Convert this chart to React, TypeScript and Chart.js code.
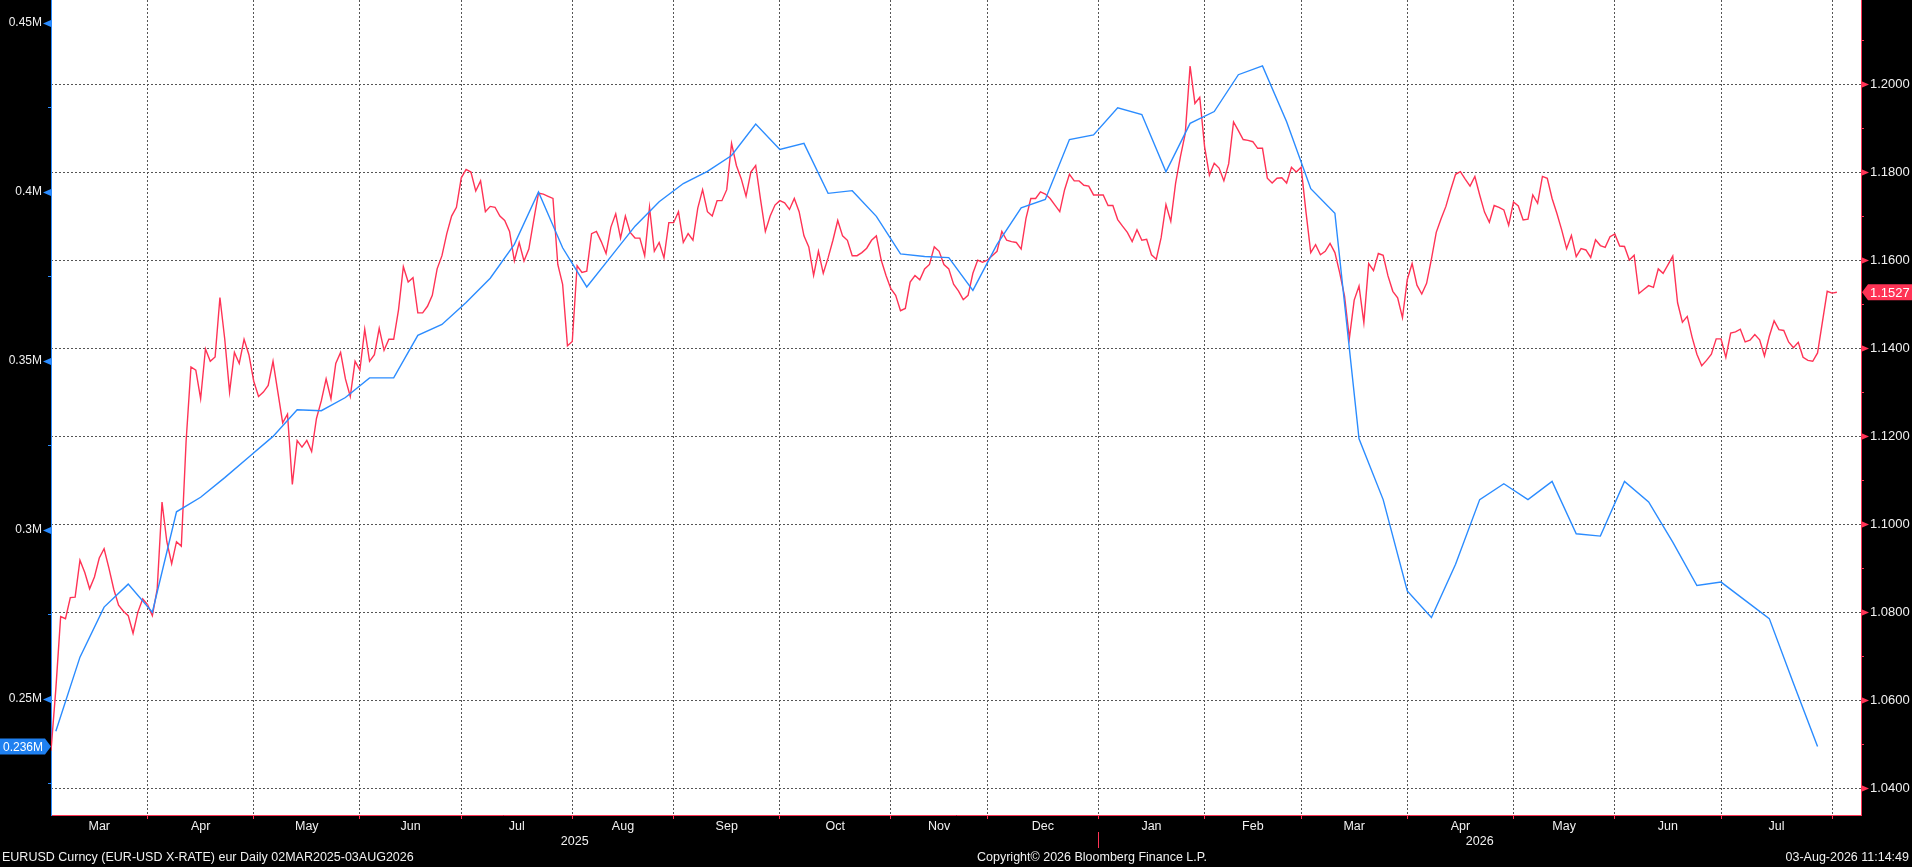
import React, { useEffect, useRef } from 'react';
import { Chart, registerables } from 'chart.js';

Chart.register(...registerables);

// ---- DATA ----
// EUR-USD daily close, one value per weekday starting Mon 03-Mar-2025 (index 0) to Mon 03-Aug-2026 (index 370)
const eurusd: number[] = [
  // Mar 2025
  1.0485, 1.0625, 1.0790, 1.0785, 1.0833, 1.0834, 1.0918, 1.0890, 1.0853, 1.0880, 1.0923, 1.0944, 1.0900, 1.0852, 1.0816, 1.0802, 1.0792, 1.0752, 1.0800, 1.0830, 1.0817,
  // Apr 2025
  1.0792, 1.0852, 1.1050, 1.0960, 1.0910, 1.0960, 1.0950, 1.1190, 1.1357, 1.1350, 1.1285, 1.1398, 1.1370, 1.1380, 1.1515, 1.1420, 1.1300, 1.1390, 1.1365, 1.1420, 1.1385, 1.1325,
  // May 2025
  1.1290, 1.1300, 1.1315, 1.1370, 1.1300, 1.1230, 1.1250, 1.1090, 1.1190, 1.1175, 1.1190, 1.1165, 1.1240, 1.1280, 1.1330, 1.1285, 1.1365, 1.1390, 1.1330, 1.1290, 1.1370, 1.1350,
  // Jun 2025
  1.1443, 1.1370, 1.1385, 1.1445, 1.1395, 1.1420, 1.1420, 1.1487, 1.1585, 1.1550, 1.1560, 1.1480, 1.1480, 1.1495, 1.1520, 1.1580, 1.1610, 1.1660, 1.1700, 1.1720, 1.1787,
  // Jul 2025
  1.1806, 1.1800, 1.1757, 1.1780, 1.1710, 1.1722, 1.1720, 1.1700, 1.1690, 1.1665, 1.1598, 1.1640, 1.1598, 1.1625, 1.1690, 1.1752, 1.1750, 1.1745, 1.1740, 1.1590, 1.1545, 1.1405, 1.1415,
  // Aug 2025
  1.1587, 1.1572, 1.1575, 1.1660, 1.1665, 1.1642, 1.1615, 1.1675, 1.1705, 1.1650, 1.1700, 1.1663, 1.1650, 1.1650, 1.1610, 1.1720, 1.1620, 1.1640, 1.1605, 1.1685, 1.1685,
  // Sep 2025
  1.1710, 1.1640, 1.1660, 1.1645, 1.1718, 1.1760, 1.1710, 1.1700, 1.1735, 1.1735, 1.1760, 1.1865, 1.1815, 1.1785, 1.1745, 1.1800, 1.1815, 1.1738, 1.1665, 1.1700, 1.1725, 1.1735,
  // Oct 2025
  1.1730, 1.1715, 1.1740, 1.1710, 1.1655, 1.1630, 1.1565, 1.1620, 1.1570, 1.1605, 1.1645, 1.1690, 1.1655, 1.1645, 1.1610, 1.1610, 1.1617, 1.1627, 1.1645, 1.1655, 1.1600, 1.1565, 1.1535,
  // Nov 2025
  1.1520, 1.1485, 1.1490, 1.1550, 1.1565, 1.1555, 1.1580, 1.1590, 1.1630, 1.1620, 1.1590, 1.1580, 1.1545, 1.1530, 1.1510, 1.1520, 1.1570, 1.1600, 1.1595, 1.1600,
  // Dec 2025
  1.1610, 1.1620, 1.1665, 1.1645, 1.1642, 1.1640, 1.1625, 1.1695, 1.1740, 1.1740, 1.1755, 1.1750, 1.1740, 1.1725, 1.1710, 1.1760, 1.1795, 1.1780, 1.1780, 1.1770, 1.1768, 1.1748, 1.1748,
  // Jan 2026
  1.1748, 1.1724, 1.1724, 1.1692, 1.1677, 1.1663, 1.1642, 1.1669, 1.1645, 1.1647, 1.1612, 1.1602, 1.1651, 1.1726, 1.1688, 1.1775, 1.1835, 1.1888, 1.2041, 1.1956, 1.1970, 1.1858,
  // Feb 2026
  1.1793, 1.1820, 1.1809, 1.1780, 1.1819, 1.1914, 1.1894, 1.1874, 1.1872, 1.1869, 1.1854, 1.1854, 1.1786, 1.1775, 1.1786, 1.1787, 1.1775, 1.1811, 1.1800, 1.1811,
  // Mar 2026
  1.1710, 1.1617, 1.1635, 1.1612, 1.1620, 1.1638, 1.1617, 1.1571, 1.1518, 1.1422, 1.1509, 1.1541, 1.1458, 1.1592, 1.1576, 1.1615, 1.1611, 1.1564, 1.1529, 1.1514, 1.1469, 1.1556,
  // Apr 2026
  1.1592, 1.1543, 1.1523, 1.1547, 1.1602, 1.1663, 1.1694, 1.1722, 1.1760, 1.1795, 1.1801, 1.1784, 1.1768, 1.1790, 1.1748, 1.1709, 1.1686, 1.1724, 1.1720, 1.1714, 1.1679, 1.1732,
  // May 2026
  1.1723, 1.1691, 1.1693, 1.1748, 1.1729, 1.1790, 1.1786, 1.1740, 1.1706, 1.1668, 1.1626, 1.1656, 1.1608, 1.1626, 1.1623, 1.1606, 1.1646, 1.1633, 1.1629, 1.1653, 1.1659,
  // Jun 2026
  1.1632, 1.1631, 1.1600, 1.1611, 1.1524, 1.1533, 1.1542, 1.1538, 1.1580, 1.1570, 1.1589, 1.1609, 1.1503, 1.1459, 1.1472, 1.1425, 1.1386, 1.1360, 1.1372, 1.1386, 1.1421, 1.1421,
  // Jul 2026
  1.1379, 1.1434, 1.1437, 1.1443, 1.1414, 1.1418, 1.1431, 1.1419, 1.1382, 1.1427, 1.1462, 1.1442, 1.1440, 1.1414, 1.1401, 1.1413, 1.1379, 1.1372, 1.1370, 1.1389, 1.1459, 1.1529, 1.1525,
  // Aug 2026
  1.1527,
];

// Weekly positions (millions), every Tuesday from 04-Mar-2025 to 28-Jul-2026
const positions: number[] = [
  0.2405, 0.2624, 0.2772, 0.2840, 0.2757, 0.3054, 0.3097, 0.3155, 0.3216, 0.3277,
  0.3356, 0.3353, 0.3392, 0.3450, 0.3450, 0.3576, 0.3608, 0.3673, 0.3745, 0.3845,
  0.4000, 0.3835, 0.3719, 0.3809, 0.3899, 0.3971, 0.4025, 0.4061, 0.4108, 0.4201,
  0.4126, 0.4144, 0.3996, 0.4004, 0.3928, 0.3817, 0.3809, 0.3806, 0.3709, 0.3845,
  0.3953, 0.3978, 0.4155, 0.4169, 0.4249, 0.4229, 0.4060, 0.4203, 0.4238, 0.4347,
  0.4373, 0.4208, 0.4010, 0.3937, 0.3270, 0.3090, 0.2820, 0.2741, 0.2899, 0.3090,
  0.3137, 0.3090, 0.3144, 0.2989, 0.2982, 0.3144, 0.3083, 0.2964, 0.2836, 0.2846,
  0.2792, 0.2738, 0.2547, 0.2360,
];
const FIRST_TUESDAY = 1; // weekday index of Tue 04-Mar-2025
const WEEK = 5; // weekdays per week

// Weekday index of the last weekday of each month (Mar 2025 ... Jul 2026)
const monthEnds: number[] = [20, 42, 64, 85, 108, 129, 151, 174, 194, 217, 239, 259, 281, 303, 324, 346, 369];
const monthLabels: string[] = ['Mar', 'Apr', 'May', 'Jun', 'Jul', 'Aug', 'Sep', 'Oct', 'Nov', 'Dec', 'Jan', 'Feb', 'Mar', 'Apr', 'May', 'Jun', 'Jul'];
const yearLabels: string[] = ['2025', '2026'];
const X_MIN = 0;
const X_MAX = 375;
const yearEnds: number[] = [217, X_MAX];

const leftTicks: number[] = [0.25, 0.3, 0.35, 0.4, 0.45];
const leftMinor: number[] = [0.225, 0.275, 0.325, 0.375, 0.425];
const rightTicks: number[] = [1.04, 1.06, 1.08, 1.1, 1.12, 1.14, 1.16, 1.18, 1.2];
const rightMinor: number[] = [1.05, 1.07, 1.09, 1.11, 1.13, 1.15, 1.17, 1.19, 1.21];

const footerLeft = 'EURUSD Curncy (EUR-USD X-RATE) eur Daily 02MAR2025-03AUG2026';
const footerMid = 'Copyright\u00A9 2026 Bloomberg Finance L.P.';
const footerRight = '03-Aug-2026 11:14:49';

// ---- STYLE ----
const RED = '#ff3355';
const BLUE = '#2b8cff';
const GRID = '#555555';
const TEXT = '#f0f0f0';
const FONT = '"Liberation Sans", Arial, sans-serif';

type XT = { value: number; kind: 'b' | 'm' | 'y'; label: string | string[] };
const xTicks: XT[] = [];
monthEnds.forEach((v) => xTicks.push({ value: v, kind: 'b', label: '' }));
monthLabels.forEach((m, i) => {
  const s = i === 0 ? X_MIN : monthEnds[i - 1];
  xTicks.push({ value: (s + monthEnds[i]) / 2, kind: 'm', label: m });
});
yearLabels.forEach((y, i) => {
  const s = i === 0 ? X_MIN : yearEnds[i - 1];
  xTicks.push({ value: (s + yearEnds[i]) / 2, kind: 'y', label: ['', y] });
});

const isIn = (arr: number[], v: number) => arr.some((t) => Math.abs(t - v) < 1e-9);
const fmtM = (v: number) => `${+v.toFixed(3)}M`;

const decor = {
  id: 'decor',
  beforeDraw(chart: any) {
    const { ctx, chartArea: a } = chart;
    ctx.save();
    ctx.fillStyle = '#000';
    ctx.fillRect(0, 0, chart.width, chart.height);
    ctx.fillStyle = '#fff';
    ctx.fillRect(a.left, a.top, a.right - a.left, a.bottom - a.top);
    ctx.restore();
  },
  afterDraw(chart: any) {
    const { ctx, chartArea: a } = chart;
    const yL = chart.scales.yL;
    const yR = chart.scales.yR;
    const x = chart.scales.x;
    ctx.save();
    // axis markers
    ctx.fillStyle = BLUE;
    leftTicks.forEach((v) => {
      const y = Math.round(yL.getPixelForValue(v)) + 0.5;
      ctx.beginPath();
      ctx.moveTo(a.left - 8, y);
      ctx.lineTo(a.left, y - 3.5);
      ctx.lineTo(a.left, y + 3.5);
      ctx.closePath();
      ctx.fill();
    });
    ctx.fillStyle = RED;
    rightTicks.forEach((v) => {
      const y = Math.round(yR.getPixelForValue(v)) + 0.5;
      ctx.beginPath();
      ctx.moveTo(a.right + 8, y);
      ctx.lineTo(a.right, y - 3.5);
      ctx.lineTo(a.right, y + 3.5);
      ctx.closePath();
      ctx.fill();
    });
    // last value boxes
    const lastR = eurusd[eurusd.length - 1];
    let y = yR.getPixelForValue(lastR);
    ctx.fillStyle = RED;
    ctx.beginPath();
    ctx.moveTo(a.right + 1, y);
    ctx.lineTo(a.right + 7, y - 8);
    ctx.lineTo(chart.width, y - 8);
    ctx.lineTo(chart.width, y + 8);
    ctx.lineTo(a.right + 7, y + 8);
    ctx.closePath();
    ctx.fill();
    ctx.fillStyle = '#ffffff';
    ctx.font = `13px ${FONT}`;
    ctx.textBaseline = 'middle';
    ctx.textAlign = 'left';
    ctx.fillText(lastR.toFixed(4), a.right + 9, y + 1);

    const lastL = positions[positions.length - 1];
    y = yL.getPixelForValue(lastL);
    ctx.fillStyle = '#1f80f0';
    ctx.beginPath();
    ctx.moveTo(a.left, y);
    ctx.lineTo(a.left - 6, y - 8);
    ctx.lineTo(0, y - 8);
    ctx.lineTo(0, y + 8);
    ctx.lineTo(a.left - 6, y + 8);
    ctx.closePath();
    ctx.fill();
    ctx.fillStyle = '#ffffff';
    ctx.font = `12px ${FONT}`;
    ctx.fillText(fmtM(lastL), 3, y + 1);

    // year separator
    const sx = Math.round(x.getPixelForValue(yearEnds[0])) + 0.5;
    ctx.strokeStyle = RED;
    ctx.lineWidth = 1;
    ctx.beginPath();
    ctx.moveTo(sx, 832);
    ctx.lineTo(sx, 848);
    ctx.stroke();

    // footer
    ctx.fillStyle = TEXT;
    ctx.font = `12.5px ${FONT}`;
    ctx.textBaseline = 'middle';
    ctx.textAlign = 'left';
    ctx.fillText(footerLeft, 2, 858);
    ctx.textAlign = 'center';
    ctx.fillText(footerMid, 1092, 858);
    ctx.textAlign = 'right';
    ctx.fillText(footerRight, chart.width - 3, 858);
    ctx.restore();
  },
};

export default function App() {
  const ref = useRef<HTMLCanvasElement>(null);
  useEffect(() => {
    document.body.style.margin = '0';
    document.body.style.background = '#000';
    const chart = new Chart(ref.current as HTMLCanvasElement, {
      type: 'line',
      data: {
        datasets: [
          {
            label: 'Positions',
            data: positions.map((v, k) => ({ x: FIRST_TUESDAY + WEEK * k, y: v })),
            yAxisID: 'yL',
            borderColor: BLUE,
            borderWidth: 1.4,
            pointRadius: 0,
            tension: 0,
            fill: false,
          },
          {
            label: 'EURUSD',
            data: eurusd.map((v, i) => ({ x: i, y: v })),
            yAxisID: 'yR',
            borderColor: RED,
            borderWidth: 1.4,
            pointRadius: 0,
            tension: 0,
            fill: false,
          },
        ],
      },
      options: {
        animation: false,
        responsive: true,
        maintainAspectRatio: false,
        events: [],
        layout: { padding: 0 },
        plugins: { legend: { display: false }, tooltip: { enabled: false } },
        scales: {
          x: {
            type: 'linear',
            min: X_MIN,
            max: X_MAX,
            afterBuildTicks: (s: any) => {
              s.ticks = xTicks.map((t) => ({ value: t.value }));
            },
            afterFit: (s: any) => {
              s.height = 52;
              s.paddingLeft = 0;
              s.paddingRight = 0;
            },
            ticks: {
              autoSkip: false,
              maxRotation: 0,
              minRotation: 0,
              padding: 0,
              color: TEXT,
              font: { family: FONT, size: 12.5 },
              callback: (_v: any, i: number) => xTicks[i].label,
            },
            grid: {
              color: (c: any) => (xTicks[c.index] && xTicks[c.index].kind === 'b' ? GRID : 'rgba(0,0,0,0)'),
              tickColor: (c: any) => (xTicks[c.index] && xTicks[c.index].kind === 'b' ? RED : 'rgba(0,0,0,0)'),
              tickLength: 4,
              lineWidth: 1,
              drawOnChartArea: true,
            },
            border: { color: RED, width: 1, dash: [2, 2] },
          },
          yL: {
            type: 'linear',
            position: 'left',
            min: 0.2157,
            max: 0.4568,
            afterBuildTicks: (s: any) => {
              s.ticks = [...leftMinor, ...leftTicks].sort((p, q) => p - q).map((v) => ({ value: v }));
            },
            afterFit: (s: any) => {
              s.width = 51;
              s.paddingTop = 0;
              s.paddingBottom = 0;
            },
            ticks: {
              padding: 6,
              color: TEXT,
              font: { family: FONT, size: 12 },
              callback: (v: any) => (isIn(leftTicks, v) ? fmtM(v) : ''),
            },
            grid: { drawOnChartArea: false, tickColor: BLUE, tickLength: 3 },
            border: { color: BLUE, width: 1 },
          },
          yR: {
            type: 'linear',
            position: 'right',
            min: 1.0339,
            max: 1.2191,
            afterBuildTicks: (s: any) => {
              s.ticks = [...rightMinor, ...rightTicks].sort((p, q) => p - q).map((v) => ({ value: v }));
            },
            afterFit: (s: any) => {
              s.width = 51;
              s.paddingTop = 0;
              s.paddingBottom = 0;
            },
            ticks: {
              padding: 6,
              color: TEXT,
              font: { family: FONT, size: 13 },
              callback: (v: any) => (isIn(rightTicks, v) ? Number(v).toFixed(4) : ''),
            },
            grid: {
              drawOnChartArea: true,
              color: (c: any) => (c.tick && isIn(rightTicks, c.tick.value) ? GRID : 'rgba(0,0,0,0)'),
              tickColor: RED,
              tickLength: 3,
              lineWidth: 1,
            },
            border: { color: RED, width: 1, dash: [2, 2] },
          },
        },
      } as any,
      plugins: [decor],
    });
    return () => chart.destroy();
  }, []);
  return (
    <div style={{ position: 'relative', width: 1912, height: 867, background: '#000' }}>
      <canvas ref={ref} />
    </div>
  );
}
